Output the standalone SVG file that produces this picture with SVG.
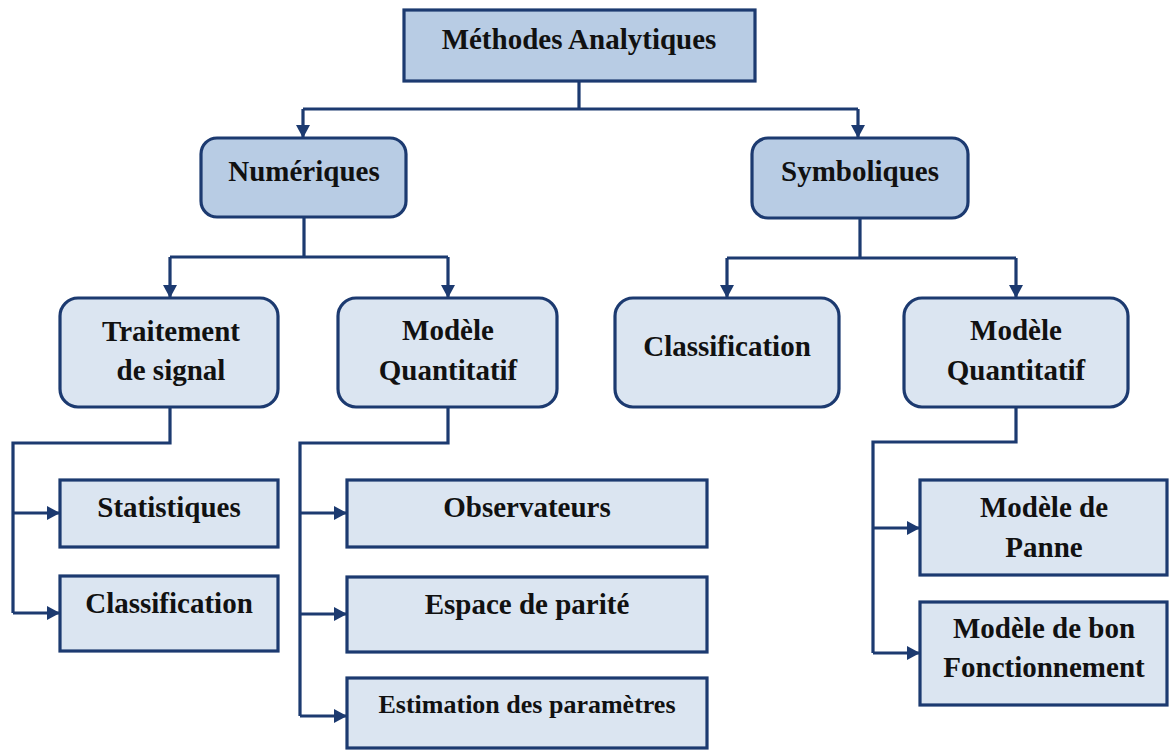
<svg xmlns="http://www.w3.org/2000/svg" width="1169" height="751" viewBox="0 0 1169 751">
  <defs>
    <marker id="arrow" markerUnits="userSpaceOnUse" markerWidth="14" markerHeight="14" refX="13" refY="7" orient="auto">
      <path d="M0,0 L13,7 L0,14 Z" fill="#1c3a70"/>
    </marker>
    <style>
      .box { stroke: #1c3a70; stroke-width: 3.2; }
      .dark { fill: #b8cce4; }
      .light { fill: #dbe5f1; }
      .lbl { font-family: "Liberation Serif", "Times New Roman", serif; font-weight: bold; font-size: 29px; fill: #111; text-anchor: middle; }
      .small { font-size: 26px; }
      .wire { fill: none; stroke: #1c3a70; stroke-width: 3.2; }
      .arr { marker-end: url(#arrow); }
    </style>
  </defs>
  <rect width="1169" height="751" fill="#ffffff"/>

  <!-- connectors -->
  <g id="connectors">
    <!-- root to level 1 -->
    <path class="wire" d="M579,81 V109 M303,109 H858"/>
    <path class="wire arr" d="M303,109 V138"/>
    <path class="wire arr" d="M858,109 V138"/>
    <!-- Numériques to level 2 -->
    <path class="wire" d="M304,217 V257 M170,257 H448"/>
    <path class="wire arr" d="M170,257 V298"/>
    <path class="wire arr" d="M448,257 V298"/>
    <!-- Symboliques to level 2 -->
    <path class="wire" d="M860,218 V258 M727,258 H1016"/>
    <path class="wire arr" d="M727,258 V298"/>
    <path class="wire arr" d="M1016,258 V298"/>
    <!-- Traitement de signal branch -->
    <path class="wire" d="M170,407 V443 H13 V613"/>
    <path class="wire arr" d="M13,513 H60"/>
    <path class="wire arr" d="M13,613 H60"/>
    <!-- left Modèle Quantitatif branch -->
    <path class="wire" d="M448,407 V443 H300 V716"/>
    <path class="wire arr" d="M300,513 H347"/>
    <path class="wire arr" d="M300,614 H347"/>
    <path class="wire arr" d="M300,716 H347"/>
    <!-- right Modèle Quantitatif branch -->
    <path class="wire" d="M1016,407 V442 H873 V653"/>
    <path class="wire arr" d="M873,528 H920"/>
    <path class="wire arr" d="M873,653 H920"/>
  </g>

  <g id="root">
    <rect class="box dark" x="404" y="10" width="351" height="71"/>
    <text class="lbl" x="579" y="49">Méthodes Analytiques</text>
  </g>

  <g id="numeriques">
    <rect class="box dark" x="201" y="138" width="205" height="79" rx="16"/>
    <text class="lbl" x="304" y="181">Numériques</text>
  </g>

  <g id="symboliques">
    <rect class="box dark" x="752" y="138" width="216" height="80" rx="16"/>
    <text class="lbl" x="860" y="181">Symboliques</text>
  </g>

  <g id="traitement">
    <rect class="box light" x="60" y="298" width="218" height="109" rx="18"/>
    <text class="lbl" x="171" y="341">Traitement</text>
    <text class="lbl" x="171" y="380">de signal</text>
  </g>

  <g id="modele-num">
    <rect class="box light" x="338" y="298" width="219" height="109" rx="18"/>
    <text class="lbl" x="448" y="340">Modèle</text>
    <text class="lbl" x="448" y="380">Quantitatif</text>
  </g>

  <g id="classification-sym">
    <rect class="box light" x="615" y="298" width="224" height="109" rx="18"/>
    <text class="lbl" x="727" y="356">Classification</text>
  </g>

  <g id="modele-sym">
    <rect class="box light" x="904" y="298" width="224" height="109" rx="18"/>
    <text class="lbl" x="1016" y="340">Modèle</text>
    <text class="lbl" x="1016" y="380">Quantitatif</text>
  </g>

  <g id="statistiques">
    <rect class="box light" x="60" y="480" width="218" height="67"/>
    <text class="lbl" x="169" y="517">Statistiques</text>
  </g>

  <g id="classification-num">
    <rect class="box light" x="60" y="576" width="218" height="75"/>
    <text class="lbl" x="169" y="613">Classification</text>
  </g>

  <g id="observateurs">
    <rect class="box light" x="347" y="480" width="360" height="67"/>
    <text class="lbl" x="527" y="517">Observateurs</text>
  </g>

  <g id="espace-parite">
    <rect class="box light" x="347" y="577" width="360" height="75"/>
    <text class="lbl" x="527" y="614">Espace de parité</text>
  </g>

  <g id="estimation">
    <rect class="box light" x="347" y="678" width="360" height="70"/>
    <text class="lbl small" x="527" y="713">Estimation des paramètres</text>
  </g>

  <g id="modele-panne">
    <rect class="box light" x="920" y="480" width="247" height="95"/>
    <text class="lbl" x="1044" y="517">Modèle de</text>
    <text class="lbl" x="1044" y="557">Panne</text>
  </g>

  <g id="modele-bon">
    <rect class="box light" x="920" y="602" width="247" height="103"/>
    <text class="lbl" x="1044" y="638">Modèle de bon</text>
    <text class="lbl" x="1044" y="677">Fonctionnement</text>
  </g>
</svg>
